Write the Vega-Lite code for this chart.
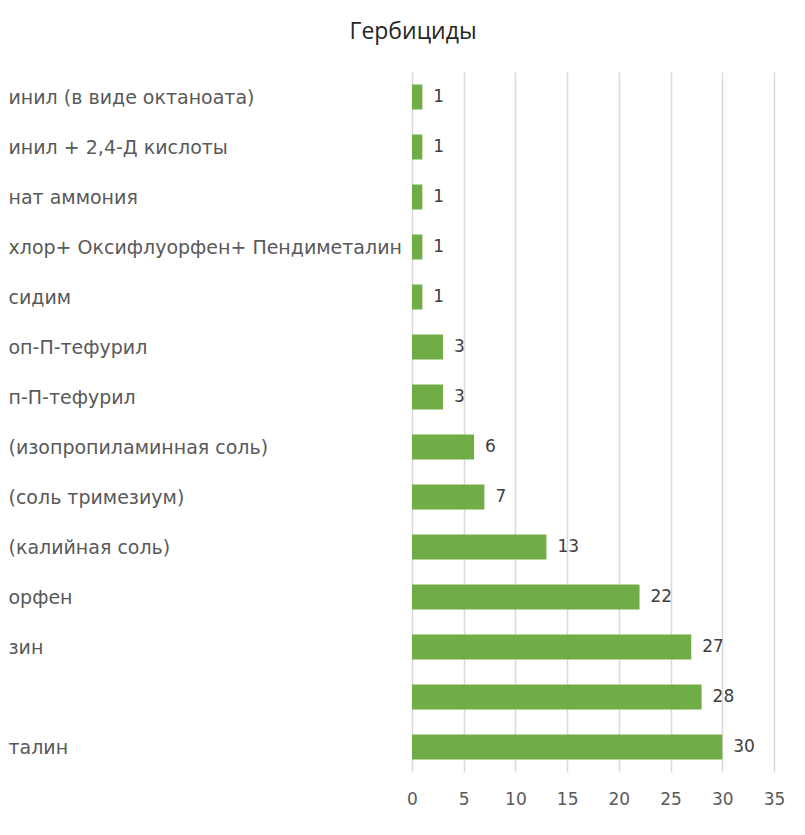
{
  "$schema": "https://vega.github.io/schema/vega-lite/v6.json",
  "width": 362,
  "height": 700,
  "autosize": "none",
  "padding": {"left": 412, "top": 72, "right": 31, "bottom": 63},
  "background": "white",
  "title": {
    "text": "Гербициды",
    "font": "Open Sans",
    "fontSize": 23,
    "fontWeight": "normal",
    "color": "#262626",
    "anchor": "middle",
    "dx": -180,
    "offset": 28
  },
  "data": {
    "values": [
      {"label": "инил (в виде октаноата)", "value": 1},
      {"label": "инил + 2,4-Д кислоты", "value": 1},
      {"label": "нат аммония", "value": 1},
      {"label": "хлор+ Оксифлуорфен+ Пендиметалин", "value": 1},
      {"label": " сидим", "value": 1},
      {"label": "оп-П-тефурил", "value": 3},
      {"label": "п-П-тефурил", "value": 3},
      {"label": " (изопропиламинная соль)", "value": 6},
      {"label": "(соль тримезиум)", "value": 7},
      {"label": " (калийная соль)", "value": 13},
      {"label": "орфен", "value": 22},
      {"label": "зин", "value": 27},
      {"label": " ", "value": 28},
      {"label": "талин", "value": 30}
    ]
  },
  "encoding": {
    "y": {
      "field": "label",
      "type": "nominal",
      "sort": null,
      "scale": {"paddingInner": 0.5, "paddingOuter": 0.25},
      "axis": {
        "title": null,
        "domain": false,
        "ticks": false,
        "labelAlign": "left",
        "labelPadding": 404,
        "labelLimit": 420,
        "labelFont": "DejaVu Sans",
        "labelFontSize": 19,
        "labelColor": "#595959",
        "labelOffset": 1
      }
    },
    "x": {
      "field": "value",
      "type": "quantitative",
      "scale": {"domain": [0, 35]},
      "axis": {
        "title": null,
        "values": [0, 5, 10, 15, 20, 25, 30, 35],
        "domain": false,
        "ticks": false,
        "grid": true,
        "gridColor": "#d9d9d9",
        "gridWidth": 1.5,
        "labelFlush": false,
        "labelPadding": 19,
        "labelFont": "DejaVu Sans",
        "labelFontSize": 17,
        "labelColor": "#595959"
      }
    }
  },
  "layer": [
    {"mark": {"type": "bar", "color": "#70AD47"}},
    {
      "mark": {"type": "text", "align": "left", "dx": 11, "font": "DejaVu Sans", "fontSize": 17, "color": "#404040"},
      "encoding": {"text": {"field": "value", "type": "quantitative"}}
    }
  ],
  "config": {"view": {"stroke": null}}
}
